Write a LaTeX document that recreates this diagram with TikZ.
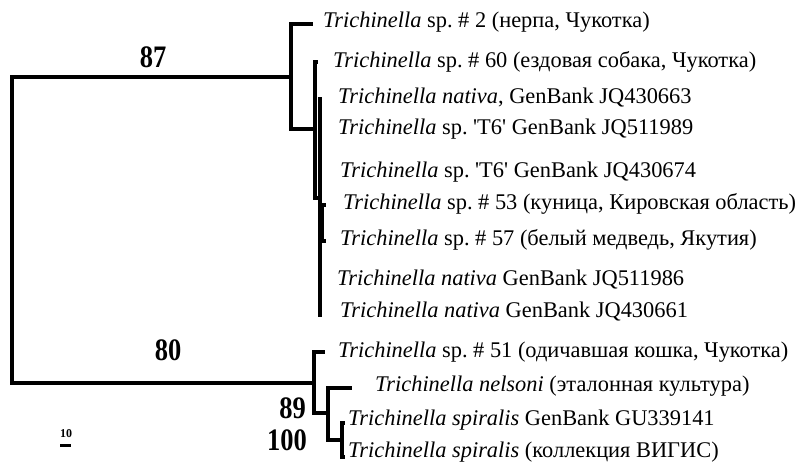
\documentclass[tikz,border=0pt]{standalone}
\usepackage{graphicx}
\usepackage{fontspec}
\setmainfont{Liberation Serif}
\frenchspacing
\newcommand{\sq}{\textquotesingle}
\newcommand{\bootval}[1]{\scalebox{1}[1.18]{#1}}
\tikzset{
  branch/.style={line width=3.2pt, line join=miter},
  taxon/.style={anchor=west, inner sep=0pt, font=\fontsize{22.4}{25}\selectfont},
  support/.style={inner sep=0pt, font=\fontsize{26.5}{30}\selectfont\bfseries}
}
\begin{document}
\begin{tikzpicture}[x=1pt,y=-1pt]
  \useasboundingbox (0,0) rectangle (806,466);

  % inner nodes of the tree
  \coordinate (root) at (12,230);
  \coordinate (nA) at (291,77);
  \coordinate (nB) at (315,129);
  \coordinate (nC) at (320,198);
  \coordinate (nD) at (322,223);
  \coordinate (nE) at (314,383);
  \coordinate (nF) at (328,413);
  \coordinate (nG) at (342,440);

  % tips
  \coordinate (t2) at (313,24);
  \coordinate (t60) at (318,62);
  \coordinate (t663) at (320,97);
  \coordinate (t989) at (320,128);
  \coordinate (t674) at (320,172);
  \coordinate (t53) at (326,205);
  \coordinate (t57) at (326,241);
  \coordinate (t986) at (320,280);
  \coordinate (t661) at (320,317);
  \coordinate (t51) at (325,352);
  \coordinate (tnel) at (352,388);
  \coordinate (tgu) at (345,423);
  \coordinate (tvig) at (345,457);

  % branches
  \draw[branch] (root) |- (nA);
  \draw[branch] (root) |- (nE);
  \draw[branch] (nA) |- (t2);
  \draw[branch] (nA) |- (nB);
  \draw[branch] (nB) |- (t60);
  \draw[branch] (nB) |- (nC);
  \draw[branch] (nC) |- (t663);
  \draw[branch] (nC) |- (t989);
  \draw[branch] (nC) |- (t674);
  \draw[branch] (nC) |- (nD);
  \draw[branch] (nC) |- (t986);
  \draw[branch] (nC) |- (t661);
  \draw[branch] (nD) |- (t53);
  \draw[branch] (nD) |- (t57);
  \draw[branch] (nE) |- (t51);
  \draw[branch] (nE) |- (nF);
  \draw[branch] (nF) |- (tnel);
  \draw[branch] (nF) |- (nG);
  \draw[branch] (nG) |- (tgu);
  \draw[branch] (nG) |- (tvig);

  % taxa
  \node[taxon] (l2) at (323,22) {\textit{Trichinella} sp. \# 2 (нерпа, Чукотка)};
  \node[taxon] (l60) at (333,62) {\textit{Trichinella} sp. \# 60 (ездовая собака, Чукотка)};
  \node[taxon] (l663) at (338,98) {\textit{Trichinella nativa}, GenBank JQ430663};
  \node[taxon] (l989) at (338,129) {\textit{Trichinella} sp. \sq T6\sq{} GenBank JQ511989};
  \node[taxon] (l674) at (340,172) {\textit{Trichinella} sp. \sq T6\sq{} GenBank JQ430674};
  \node[taxon] (l53) at (343,204) {\textit{Trichinella} sp. \# 53 (куница, Кировская область)};
  \node[taxon] (l57) at (340,240) {\textit{Trichinella} sp. \# 57 (белый медведь, Якутия)};
  \node[taxon] (l986) at (337,280) {\textit{Trichinella nativa} GenBank JQ511986};
  \node[taxon] (l661) at (340,312) {\textit{Trichinella nativa} GenBank JQ430661};
  \node[taxon] (l51) at (338,352) {\textit{Trichinella} sp. \# 51 (одичавшая кошка, Чукотка)};
  \node[taxon] (lnel) at (375,386) {\textit{Trichinella nelsoni} (эталонная культура)};
  \node[taxon] (lgu) at (348,420) {\textit{Trichinella spiralis} GenBank GU339141};
  \node[taxon] (lvig) at (348,452) {\textit{Trichinella spiralis} (коллекция ВИГИС)};

  % bootstrap values
  \node[support] (b87) at (153,57) {\bootval{87}};
  \node[support] (b80) at (168,350) {\bootval{80}};
  \node[support, anchor=east] (b89) at (306,408) {\bootval{89}};
  \node[support, anchor=east] (b100) at (307,440) {\bootval{100}};

  % scale bar
  \node[inner sep=0pt, font=\fontsize{12}{13}\selectfont\bfseries] (scl) at (66,434) {10};
  \coordinate (sbL) at (60,445);
  \coordinate (sbR) at (71,445);
  \draw[line width=3pt] (sbL) -- (sbR);
\end{tikzpicture}
\end{document}
